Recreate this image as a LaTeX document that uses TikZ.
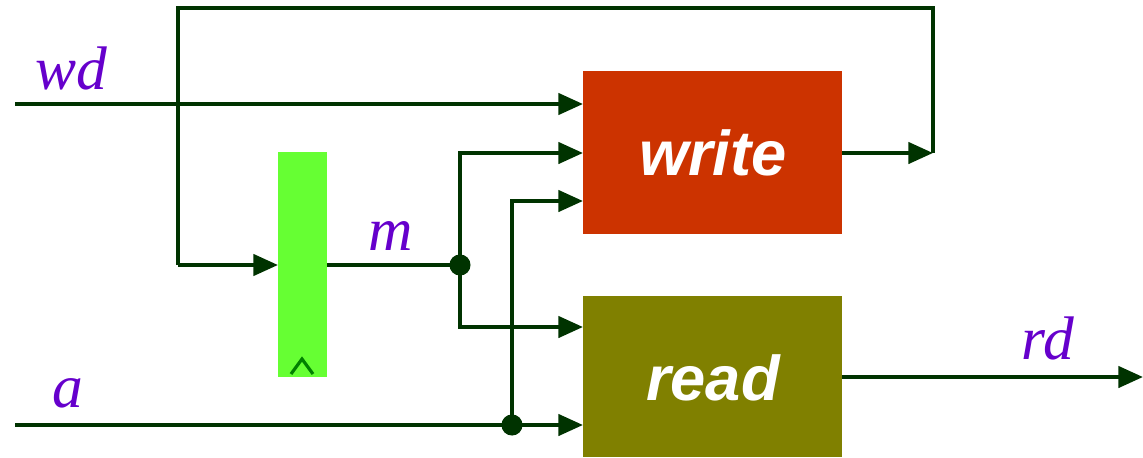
\documentclass[tikz,border=0pt]{standalone}
\usepackage{fontspec}
\setmainfont{Liberation Serif}
\setsansfont{Liberation Sans}
\usetikzlibrary{arrows.meta}
\definecolor{wire}{HTML}{003300}
\definecolor{lbl}{HTML}{6600CC}
\definecolor{wbox}{HTML}{CC3300}
\definecolor{rbox}{HTML}{808000}
\definecolor{reg}{HTML}{66FF33}
\definecolor{clk}{HTML}{008000}
\tikzset{
  wireline/.style={draw=wire, line width=2.3pt},
  arr/.style={wireline, -{Triangle[length=14pt,width=12pt]}},
  sig/.style={text=lbl, font=\fontsize{35}{40}\selectfont\itshape, inner sep=0pt},
  block/.style={draw=none, inner sep=0pt, text=white, font=\fontsize{36}{40}\selectfont\sffamily\bfseries\itshape},
  dot/.style={circle, fill=wire, inner sep=0pt, minimum size=12pt},
}
\begin{document}
\begin{tikzpicture}[x=0.02cm, y=-0.02cm]
\useasboundingbox (0,0) rectangle (1143,457);
% blocks
\node[block, fill=wbox, minimum width=259*0.02cm, minimum height=163*0.02cm, anchor=north west] (write) at (583,71) {write};
\fill[rbox] (583,296) rectangle (842,457);
\node[block, anchor=center] (read) at (713,378) {read};
\fill[reg] (278,152) rectangle (327,377);
\coordinate (regin) at (278,265);
\coordinate (regout) at (327,265);
\draw[clk, line width=1.8pt] (291,374) -- (302,359) -- (313,374);
% labels
\node[sig] (wd) at (71,68) {wd};
\node[sig] (a) at (68,393) {a};
\node[sig] (m) at (391,236) {m};
\node[sig] (rd) at (1048,338) {rd};
% coordinates
\coordinate (wdin) at (15,104);
\coordinate (wdend) at (583,104);
\coordinate (ain) at (15,425);
\coordinate (aend) at (583,425);
\coordinate (wout) at (842,153);
\coordinate (wfb) at (933,153);
\coordinate (fbtr) at (933,8);
\coordinate (fbtl) at (178,8);
\coordinate (fbbl) at (178,265);
\node[dot] (mdot) at (460,265) {};
\node[dot] (adot) at (512,425) {};
\coordinate (mtop) at (460,153);
\coordinate (mw) at (583,153);
\coordinate (mbot) at (460,327);
\coordinate (mr) at (583,327);
\coordinate (atop) at (512,201);
\coordinate (aw) at (583,201);
\coordinate (rout) at (842,377);
\coordinate (rdend) at (1143,377);
% wires
\draw[arr] (wdin) -- (wdend);
\draw[arr] (ain) -- (aend);
\draw[arr] (wout) -- (wfb);
\draw[wireline] (wfb) -- (fbtr) -- (fbtl) -- (fbbl);
\draw[arr] (fbbl) -- (regin);
\draw[wireline] (regout) -- (mdot.center);
\draw[arr] (mdot.center) -- (mtop) -- (mw);
\draw[arr] (mdot.center) -- (mbot) -- (mr);
\draw[arr] (adot.center) -- (atop) -- (aw);
\draw[arr] (rout) -- (rdend);
\end{tikzpicture}
\end{document}
